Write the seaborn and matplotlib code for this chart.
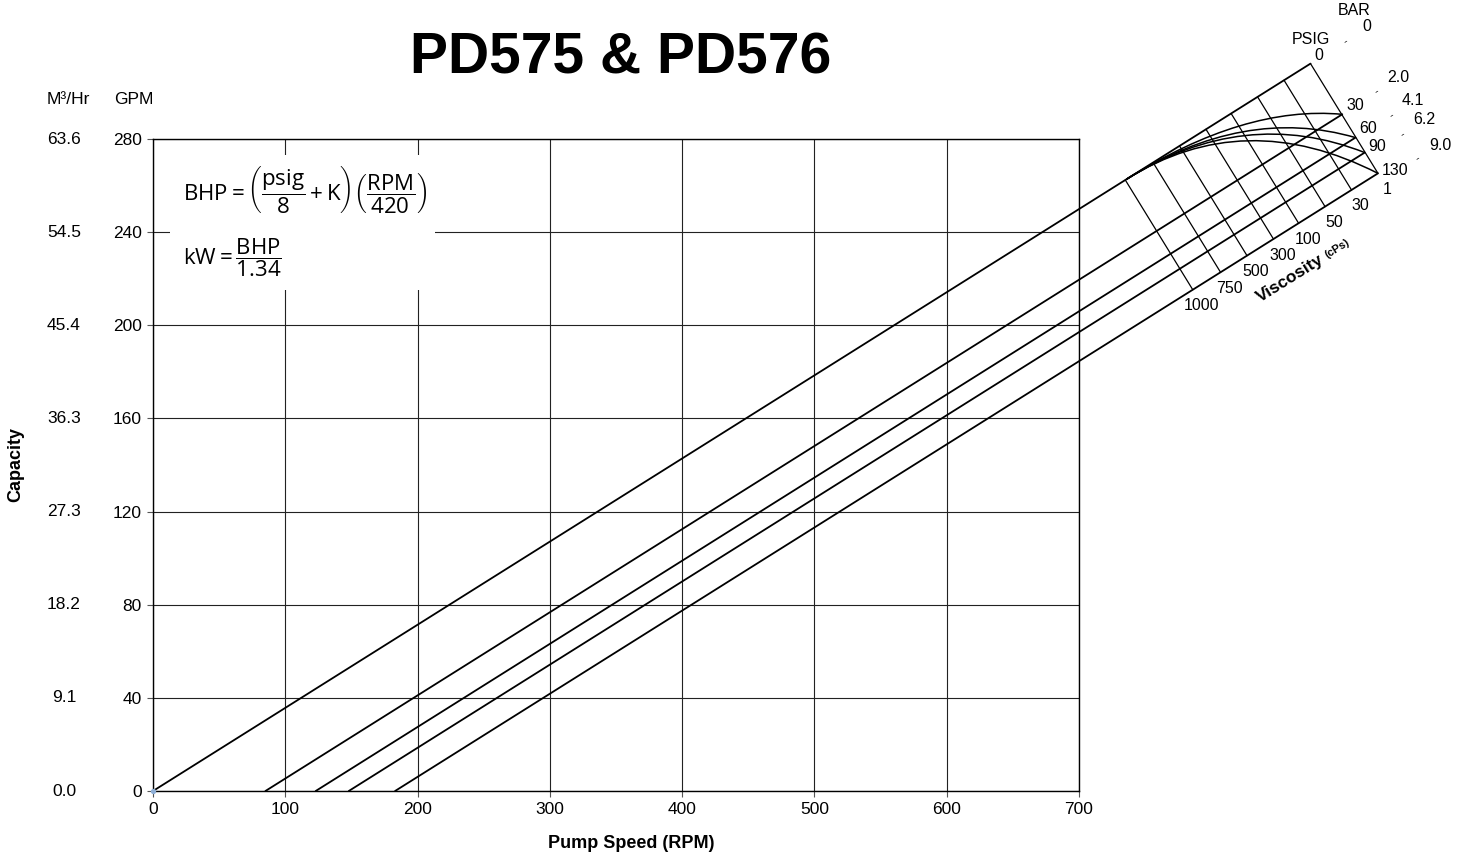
import matplotlib
matplotlib.use("Agg")
import matplotlib.pyplot as plt
import matplotlib.transforms as mtransforms
from matplotlib.path import Path
from matplotlib.patches import PathPatch, Rectangle
import pandas as pd
import seaborn as sns

# values
rpm_ticks = [0, 100, 200, 300, 400, 500, 600, 700]
gpm_ticks = [0, 40, 80, 120, 160, 200, 240, 280]
m3hr_labels = ["0.0", "9.1", "18.2", "27.3", "36.3", "45.4", "54.5", "63.6"]

slope = 0.357                       # GPM per RPM
psig = ["0", "30", "60", "90", "130"]
bar = ["0", "2.0", "4.1", "6.2", "9.0"]
zero_rpm = [0, 85, 123, 148, 183]   # speed where each line meets 0 GPM
end_rpm = [875, 899, 909, 916, 926] # where each line ends on the psig scale

visc = ["1000", "750", "500", "300", "100", "50", "30", "1"]
visc_top_rpm = [735, 756, 776, 796, 815, 835, 855, 875]  # on the 0 psig line
curve_start_rpm = 736
curve_ctrl_rpm = 825

# label nudges (pixels)
psig_lift = [8, 9, 9, 6, 3]
bar_off = [(56, 37), (56, 37), (57, 37), (60, 33), (62, 28)]
dash_off = [(35, 22), (34, 23), (36, 22), (38, 18), (40, 15)]

sns.set_theme(style="white")
plt.rcParams["font.family"] = ["Liberation Sans", "DejaVu Sans"]
plt.rcParams["text.color"] = "black"
plt.rcParams["axes.labelcolor"] = "black"
plt.rcParams["xtick.labelcolor"] = "black"
plt.rcParams["ytick.labelcolor"] = "black"
plt.rcParams["mathtext.fontset"] = "custom"
plt.rcParams["mathtext.rm"] = "Open Sans"
plt.rcParams["mathtext.it"] = "Open Sans:italic"
plt.rcParams["mathtext.bf"] = "Open Sans:bold"

fig = plt.figure(figsize=(14.68, 8.61), dpi=100)
ax = fig.add_axes([153 / 1468, 70 / 861, 926 / 1468, 652 / 861])

rows = []
for p, z, e in zip(psig, zero_rpm, end_rpm):
    rows.append({"psig": p, "rpm": z, "gpm": 0})
    rows.append({"psig": p, "rpm": e, "gpm": slope * (e - z)})
lines = pd.DataFrame(rows)

sns.lineplot(data=lines, x="rpm", y="gpm", units="psig", estimator=None,
             color="black", lw=1.3, legend=False, ax=ax)
for ln in ax.lines:
    ln.set_clip_on(False)
    ln.set_zorder(3)

# viscosity lines between the 0 psig and 130 psig lines
shift = end_rpm[-1] - end_rpm[0]
for v, r in zip(visc, visc_top_rpm):
    x0, y0 = r, slope * r
    x1, y1 = r + shift, slope * (r + shift - zero_rpm[-1])
    ax.plot([x0, x1], [y0, y1], color="black", lw=0.9, clip_on=False, zorder=3)
    ax.annotate(v, (x1, y1), xytext=(9, -16), textcoords="offset pixels",
                ha="center", va="center", fontsize=11.5, annotation_clip=False)

# pressure curves
p0 = (curve_start_rpm, slope * curve_start_rpm)
pc = (curve_ctrl_rpm, slope * curve_ctrl_rpm)
for z, e in zip(zero_rpm[1:], end_rpm[1:]):
    path = Path([p0, pc, (e, slope * (e - z))], [Path.MOVETO, Path.CURVE3, Path.CURVE3])
    ax.add_patch(PathPatch(path, fill=False, ec="black", lw=1.1, clip_on=False, zorder=3))

# psig / bar labels
for i, (p, b, z, e) in enumerate(zip(psig, bar, zero_rpm, end_rpm)):
    pt = (e, slope * (e - z))
    ax.annotate(p, pt, xytext=(4, psig_lift[i]), textcoords="offset pixels",
                ha="left", va="center", fontsize=11.5, annotation_clip=False)
    ax.annotate(b, pt, xytext=bar_off[i], textcoords="offset pixels",
                ha="center", va="center", fontsize=11.5, annotation_clip=False)
    ax.annotate("-", pt, xytext=dash_off[i], textcoords="offset pixels",
                ha="center", va="center", fontsize=8, rotation=32,
                annotation_clip=False)
top = (end_rpm[0], slope * end_rpm[0])
ax.annotate("PSIG", top, xytext=(0, 24), textcoords="offset pixels",
            ha="center", va="center", fontsize=11.5, annotation_clip=False)
ax.annotate("BAR", top, xytext=(44, 53), textcoords="offset pixels",
            ha="center", va="center", fontsize=11.5, annotation_clip=False)
ax.text(859.5, 219.9, "Viscosity", rotation=32, rotation_mode="anchor",
        ha="center", va="center", fontsize=12.5, fontweight="bold", clip_on=False)
ax.text(895.5, 233.0, "(cPs)", rotation=32, rotation_mode="anchor",
        ha="center", va="center", fontsize=8, fontweight="bold", clip_on=False)

# origin dot
ax.scatter([0], [0], s=8, color="#8fb0d8", zorder=4, clip_on=False)

# formula box
ax.add_patch(Rectangle((13, 215.2), 200, 57.9, fc="white", ec="none", zorder=1))
ax.text(22.7, 258.1,
        r"$\mathrm{BHP} = \left(\dfrac{\mathrm{psig}}{8} + \mathrm{K}\right)\left(\dfrac{\mathrm{RPM}}{420}\right)$",
        ha="left", va="center", fontsize=16, zorder=2)
ax.text(22.7, 229.3, r"$\mathrm{kW} = \dfrac{\mathrm{BHP}}{1.34}$",
        ha="left", va="center", fontsize=16, zorder=2)

ax.set_xlim(0, 700)
ax.set_ylim(0, 280)
ax.set_xticks(rpm_ticks)
ax.set_yticks(gpm_ticks)
ax.set_xlabel("")
ax.set_ylabel("")
ax.set_axisbelow(True)
ax.grid(True, color="#222222", lw=0.8)
for s in ax.spines.values():
    s.set_color("black")
    s.set_linewidth(1.0)
ax.tick_params(direction="out", length=4.5, width=0.8, color="#555555",
               labelsize=12.5, labelcolor="black", pad=3.5, left=True, bottom=True)

# metric capacity scale
trans = mtransforms.blended_transform_factory(fig.transFigure, ax.transData)
for g, lab in zip(gpm_ticks, m3hr_labels):
    ax.text(64 / 1468, g, lab, transform=trans, ha="center", va="center",
            fontsize=12.5, clip_on=False)

fig.text(68 / 1468, 1 - 100 / 861, "M³/Hr", ha="center", va="center", fontsize=12.5)
fig.text(134 / 1468, 1 - 100 / 861, "GPM", ha="center", va="center", fontsize=12.5)
fig.text(16 / 1468, 1 - 465 / 861, "Capacity", rotation=90, ha="center",
         va="center", fontsize=13, fontweight="bold")
fig.text(631 / 1468, 1 - 843 / 861, "Pump Speed (RPM)", ha="center",
         va="center", fontsize=13, fontweight="bold")
fig.text(621 / 1468, 1 - 74 / 861, "PD575 & PD576", ha="center", va="baseline",
         fontsize=41, fontweight="bold")

fig.savefig("out.png", dpi=100)
